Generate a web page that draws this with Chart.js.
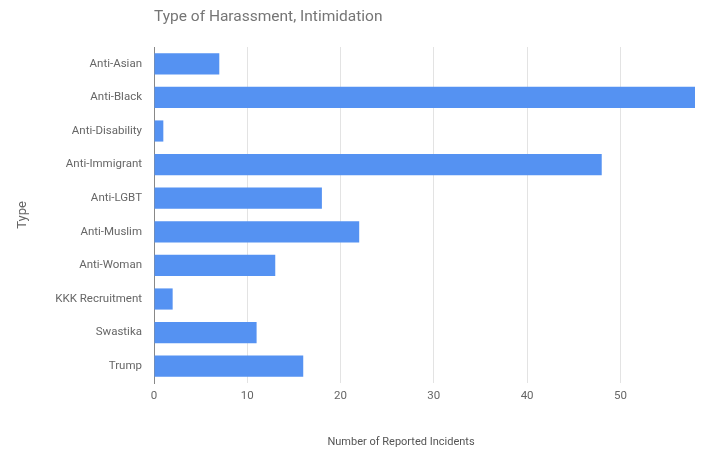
<!DOCTYPE html>
<html>
<head>
<meta charset="utf-8">
<script src="https://cdn.jsdelivr.net/npm/chart.js@4"></script>
<style>
  html, body { margin: 0; padding: 0; background: #fff; }
  #wrap { width: 717px; height: 458px; }
</style>
</head>
<body>
<div id="wrap"><canvas id="chart" width="717" height="458"></canvas></div>
<script>
// chart data
const categories = ['Anti-Asian', 'Anti-Black', 'Anti-Disability', 'Anti-Immigrant', 'Anti-LGBT',
    'Anti-Muslim', 'Anti-Woman', 'KKK Recruitment', 'Swastika', 'Trump'];
const incidents = [7, 58, 1, 48, 18, 22, 13, 2, 11, 16];
const chartTitle = 'Type of Harassment, Intimidation';
const xTitle = 'Number of Reported Incidents';
const yTitle = 'Type';

// chart title sits at the left edge of the plot area, x title is a bit left of centre
const titlePlugin = {
    id: 'extraTitles',
    afterDraw(chart) {
        const ctx = chart.ctx;
        ctx.save();
        ctx.font = '15.5px Roboto';
        ctx.fillStyle = '#757575';
        ctx.textAlign = 'left';
        ctx.textBaseline = 'middle';
        ctx.fillText(chartTitle, chart.chartArea.left, 17);

        ctx.font = '11px Roboto';
        ctx.fillStyle = '#555';
        ctx.textAlign = 'center';
        ctx.fillText(xTitle, 401, 442);
        ctx.restore();
    }
};

new Chart(document.getElementById('chart').getContext('2d'), {
    type: 'bar',
    data: {
        labels: categories,
        datasets: [{
            label: 'Incidents',
            data: incidents,
            backgroundColor: '#5592f2',
            borderWidth: 0,
            categoryPercentage: 1,
            barPercentage: 0.63
        }]
    },
    options: {
        indexAxis: 'y',
        responsive: false,
        animation: false,
        layout: {
            padding: { top: 47, right: 22, bottom: 0, left: 0 }
        },
        scales: {
            x: {
                min: 0,
                max: 58,
                afterFit: s => { s.height = 75; },
                afterBuildTicks: s => { s.ticks = s.ticks.filter(t => t.value % 10 === 0); },
                ticks: {
                    stepSize: 10,
                    padding: 6,
                    color: '#666',
                    font: { family: 'Roboto', size: 11.5 }
                },
                grid: {
                    color: '#e3e3e3',
                    drawTicks: false
                },
                border: { display: false }
            },
            y: {
                afterFit: s => { s.width = 154; },
                ticks: {
                    padding: 12,
                    color: '#666',
                    font: { family: 'Roboto', size: 11.5 }
                },
                grid: { display: false, drawTicks: false },
                border: { display: true, color: '#888', width: 1 },
                title: {
                    display: true,
                    text: yTitle,
                    color: '#666',
                    font: { family: 'Roboto', size: 13 },
                    padding: { top: 15, bottom: 0 }
                }
            }
        },
        plugins: {
            legend: { display: false },
            tooltip: { enabled: false }
        }
    },
    plugins: [titlePlugin]
});
</script>
</body>
</html>
